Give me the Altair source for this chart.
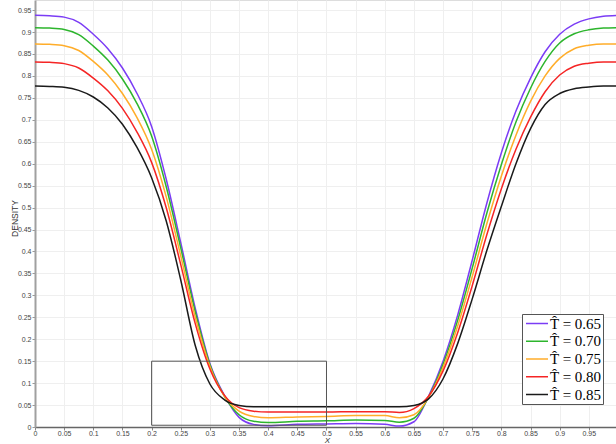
import altair as alt
import pandas as pd

x_pts = [0, 0.025, 0.05, 0.075, 0.1, 0.125, 0.15, 0.175, 0.2, 0.225, 0.25, 0.275, 0.3, 0.325,
         0.35, 0.375, 0.4, 0.45, 0.5, 0.55, 0.6, 0.625, 0.65, 0.675, 0.7, 0.725, 0.75, 0.775,
         0.8, 0.825, 0.85, 0.875, 0.9, 0.925, 0.95, 0.975, 1.0]

rho_065 = [0.938, 0.937, 0.934, 0.922, 0.895, 0.862, 0.818, 0.760, 0.685, 0.565, 0.420, 0.270, 0.145, 0.072,
           0.022, 0.006, 0.003, 0.006, 0.007, 0.008, 0.006, 0.002, 0.012, 0.070, 0.150, 0.255, 0.380, 0.510,
           0.625, 0.720, 0.795, 0.855, 0.895, 0.918, 0.930, 0.936, 0.938]
rho_070 = [0.910, 0.909, 0.906, 0.894, 0.868, 0.836, 0.793, 0.737, 0.663, 0.548, 0.408, 0.262, 0.142, 0.070,
           0.028, 0.013, 0.010, 0.013, 0.014, 0.016, 0.015, 0.011, 0.020, 0.068, 0.143, 0.243, 0.362, 0.487,
           0.598, 0.695, 0.772, 0.833, 0.875, 0.896, 0.905, 0.909, 0.910]
rho_075 = [0.873, 0.872, 0.869, 0.858, 0.833, 0.802, 0.760, 0.705, 0.633, 0.525, 0.390, 0.250, 0.138, 0.070,
           0.036, 0.024, 0.021, 0.023, 0.024, 0.026, 0.026, 0.021, 0.028, 0.067, 0.136, 0.230, 0.343, 0.463,
           0.572, 0.665, 0.742, 0.800, 0.840, 0.862, 0.870, 0.873, 0.873]
rho_080 = [0.832, 0.831, 0.828, 0.818, 0.795, 0.766, 0.726, 0.672, 0.603, 0.500, 0.370, 0.235, 0.132, 0.072,
           0.044, 0.036, 0.034, 0.034, 0.034, 0.035, 0.035, 0.033, 0.042, 0.070, 0.128, 0.215, 0.322, 0.438,
           0.543, 0.633, 0.706, 0.764, 0.802, 0.822, 0.829, 0.832, 0.832]
rho_085 = [0.777, 0.776, 0.774, 0.767, 0.752, 0.727, 0.690, 0.637, 0.568, 0.470, 0.335, 0.185, 0.098, 0.062,
           0.049, 0.046, 0.046, 0.046, 0.046, 0.046, 0.046, 0.046, 0.049, 0.064, 0.110, 0.190, 0.292, 0.402,
           0.503, 0.600, 0.680, 0.735, 0.760, 0.771, 0.775, 0.777, 0.777]

labels = ["T\u0302 = 0.65", "T\u0302 = 0.70", "T\u0302 = 0.75", "T\u0302 = 0.80", "T\u0302 = 0.85"]
colors = ["#7b3cf5", "#2db52d", "#ffad2a", "#f52525", "#1a1a1a"]
series = [rho_065, rho_070, rho_075, rho_080, rho_085]

x_ticks = [0, 0.05, 0.1, 0.15, 0.2, 0.25, 0.3, 0.35, 0.4, 0.45, 0.5, 0.55, 0.6, 0.65, 0.7, 0.75,
           0.8, 0.85, 0.9, 0.95]
y_ticks = [0, 0.05, 0.1, 0.15, 0.2, 0.25, 0.3, 0.35, 0.4, 0.45, 0.5, 0.55, 0.6, 0.65, 0.7, 0.75,
           0.8, 0.85, 0.9, 0.95]

rect_x = [0.2]
rect_x2 = [0.5]
rect_y = [0.004]
rect_y2 = [0.15]

rows = []
for lab, ys in zip(labels, series):
    for xv, yv in zip(x_pts, ys):
        rows.append({"x": xv, "density": yv, "T": lab})
df = pd.DataFrame(rows)
rect_df = pd.DataFrame({"x": rect_x, "x2": rect_x2, "y": rect_y, "y2": rect_y2})

xscale = alt.Scale(domain=[0, 0.9966], nice=False, zero=False)
yscale = alt.Scale(domain=[0, 0.973], nice=False, zero=False)

x_axis = alt.Axis(values=x_ticks, format=".2~f", title="X", titleFontStyle="italic",
                  titleFont="Liberation Sans", titleFontWeight="normal", titleFontSize=8,
                  titleColor="#333", titleX=292, titleY=13, titleBaseline="middle",
                  domainColor="#666", domainWidth=1.5, tickColor="#888", tickSize=3,
                  labelPadding=-1, labelFontSize=7, labelColor="#444", labelFont="Liberation Sans",
                  gridColor="#efefef", labelFlush=False, labelOverlap=False)
y_axis = alt.Axis(values=y_ticks, format=".2~f", title="DENSITY",
                  titleFont="Liberation Sans", titleFontWeight="normal", titleFontSize=8.5,
                  titleColor="#333", titleX=-21, titleY=218, titleBaseline="middle",
                  titleAngle=-90,
                  domainColor="#a0a0a0", domainWidth=2, tickColor="#999", tickSize=3,
                  labelPadding=1, labelFontSize=7, labelColor="#444", labelFont="Liberation Sans",
                  gridColor="#efefef", labelFlush=False, labelOverlap=False)

lines = alt.Chart(df).mark_line(strokeWidth=1.5, interpolate="monotone", clip=True).encode(
    x=alt.X("x:Q", scale=xscale, axis=x_axis),
    y=alt.Y("density:Q", scale=yscale, axis=y_axis),
    color=alt.Color("T:N", scale=alt.Scale(domain=labels, range=colors), title=None,
                    legend=alt.Legend(orient="none", legendX=487, legendY=314,
                                      strokeColor="#555", fillColor="white", padding=1,
                                      symbolType="M-1.47,0H1.47", symbolSize=225,
                                      symbolStrokeWidth=1.5, symbolOffset=5.5,
                                      labelFont="Liberation Serif", labelFontSize=15,
                                      labelColor="black", rowPadding=0.75, labelOffset=4.5)),
    order=alt.value(0),
)

box = alt.Chart(rect_df).mark_rect(filled=False, stroke="#555", strokeWidth=1).encode(
    x=alt.X("x:Q", scale=xscale, axis=x_axis), x2="x2:Q",
    y=alt.Y("y:Q", scale=yscale, axis=y_axis), y2="y2:Q",
)

chart = alt.layer(lines, box).properties(
    width=581, height=427,
    padding={"left": 35, "top": 0, "right": 0, "bottom": 17},
    autosize=alt.AutoSizeParams(type="none"),
).configure_view(stroke=None).configure_axis(labelOverlap=False).configure(background="white")

chart.save("out.html", embed_options={"renderer": "svg", "actions": False})
